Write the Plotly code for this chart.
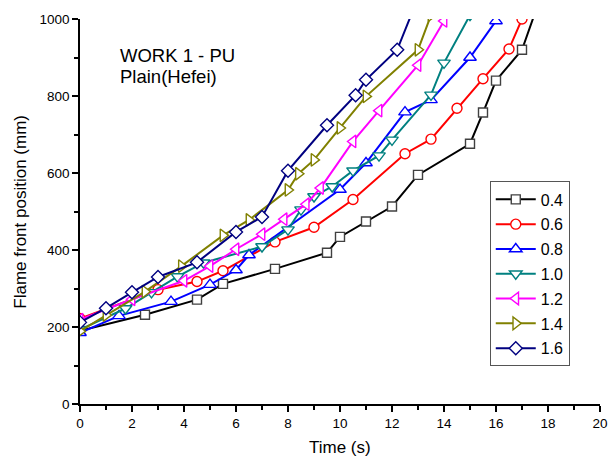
import plotly.graph_objects as go

# Data
series_names = ["0.4", "0.6", "0.8", "1.0", "1.2", "1.4", "1.6"]

t_04 = [0, 2.5, 4.5, 5.5, 7.5, 9.5, 10, 11, 12, 13, 15, 15.5, 16, 17, 17.6]
v_04 = [190, 232, 271, 312, 351, 393, 434, 474, 513, 595, 676, 757, 840, 920, 1035]

t_06 = [0, 3, 4.5, 5.5, 7.5, 9, 10.5, 12.5, 13.5, 14.5, 15.5, 16.5, 17]
v_06 = [222, 297, 318, 346, 421, 459, 531, 650, 688, 768, 845, 922, 1000]

t_08 = [0, 1.5, 3.5, 5, 6, 6.5, 10, 11, 12.5, 13.5, 15, 16]
v_08 = [185, 229, 266, 310, 348, 387, 557, 626, 758, 790, 900, 995]

t_10 = [0, 1.75, 2.75, 3.75, 4.75, 7, 8, 8.5, 9, 9.7, 10.5, 11.5, 12, 13.5, 14, 15]
v_10 = [193, 248, 290, 331, 367, 409, 453, 505, 539, 565, 606, 645, 686, 803, 886, 1010]

t_12 = [0, 2, 4, 5, 6, 7, 7.85, 8.7, 9.25, 10.5, 11.5, 13, 14]
v_12 = [219, 272, 320, 358, 402, 441, 480, 519, 561, 682, 762, 880, 995]

t_14 = [0, 1, 2.5, 3.9, 5.5, 6.5, 8, 8.4, 9, 10, 11, 13, 13.5]
v_14 = [189, 231, 292, 358, 438, 478, 556, 598, 634, 717, 799, 920, 1010]

t_16 = [0, 1, 2, 3, 4.5, 6, 7, 8, 9.5, 10.6, 11, 12.2, 13]
v_16 = [212, 249, 290, 330, 368, 447, 486, 606, 724, 802, 842, 920, 1055]

times = [t_04, t_06, t_08, t_10, t_12, t_14, t_16]
values = [v_04, v_06, v_08, v_10, v_12, v_14, v_16]
colors = ["#000000", "#FF0000", "#0000FF", "#008080", "#FF00FF", "#808000", "#000080"]
marker_line_colors = ["#404040", "#FF0000", "#0000FF", "#008080", "#FF00FF", "#808000", "#000080"]
symbols = ["square", "circle", "triangle-up", "triangle-down", "triangle-left", "triangle-right", "diamond"]
sizes = [9, 10, 11, 11, 11, 11, 10]

x_ticks = list(range(0, 21, 2))
y_ticks = list(range(0, 1001, 200))

fig = go.Figure()
for name, t, v, c, mc, s, sz in zip(series_names, times, values, colors, marker_line_colors, symbols, sizes):
    fig.add_trace(go.Scatter(
        x=t, y=v, name=name, mode="lines+markers",
        line=dict(color=c, width=2),
        marker=dict(symbol=s, size=sz, color="white", line=dict(color=mc, width=1.4)),
        legendgroup=name,
    ))

axis_common = dict(
    showline=True, linecolor="black", linewidth=1.5,
    ticks="outside", ticklen=6, tickwidth=1.5, tickcolor="black",
    showgrid=False, zeroline=False, mirror=False, automargin=False,
    tickfont=dict(family="Arial", size=13.5, color="black"),
)

fig.update_xaxes(range=[0, 20], tickvals=x_ticks, ticktext=[str(v) for v in x_ticks],
                 minor=dict(ticks="outside", ticklen=4, tickwidth=1.5, tickcolor="black", dtick=1, showgrid=False),
                 **axis_common)
fig.update_yaxes(range=[0, 1000], tickvals=y_ticks, ticktext=[str(v) for v in y_ticks],
                 minor=dict(ticks="outside", ticklen=4, tickwidth=1.5, tickcolor="black", dtick=100, showgrid=False),
                 **axis_common)

# Axis titles placed as annotations
fig.add_annotation(x=0.5, y=-0.112, xref="paper", yref="paper", xanchor="center", yanchor="middle",
                   text="Time (s)", showarrow=False,
                   font=dict(family="Arial", size=17, color="black"))
fig.add_annotation(x=-0.115, y=0.5, xref="paper", yref="paper", xanchor="center", yanchor="middle",
                   text="Flame front position (mm)", showarrow=False, textangle=-90,
                   font=dict(family="Arial", size=17, color="black"))

fig.add_annotation(x=0.073, y=0.905, xref="paper", yref="paper", xanchor="left", yanchor="middle",
                   text="WORK 1 - PU", showarrow=False,
                   font=dict(family="Arial", size=18.5, color="black"))
fig.add_annotation(x=0.073, y=0.85, xref="paper", yref="paper", xanchor="left", yanchor="middle",
                   text="Plain(Hefei)", showarrow=False,
                   font=dict(family="Arial", size=18.5, color="black"))

fig.update_layout(
    width=609, height=459,
    margin=dict(l=80, r=9, t=19, b=55),
    paper_bgcolor="white", plot_bgcolor="white",
    showlegend=True,
    legend=dict(x=0.788, y=0.578, xanchor="left", yanchor="top",
                bgcolor="white", bordercolor="#555555", borderwidth=1,
                font=dict(family="Arial", size=16, color="black"),
                tracegroupgap=1, itemwidth=40),
)

fig.write_html("out.html")
